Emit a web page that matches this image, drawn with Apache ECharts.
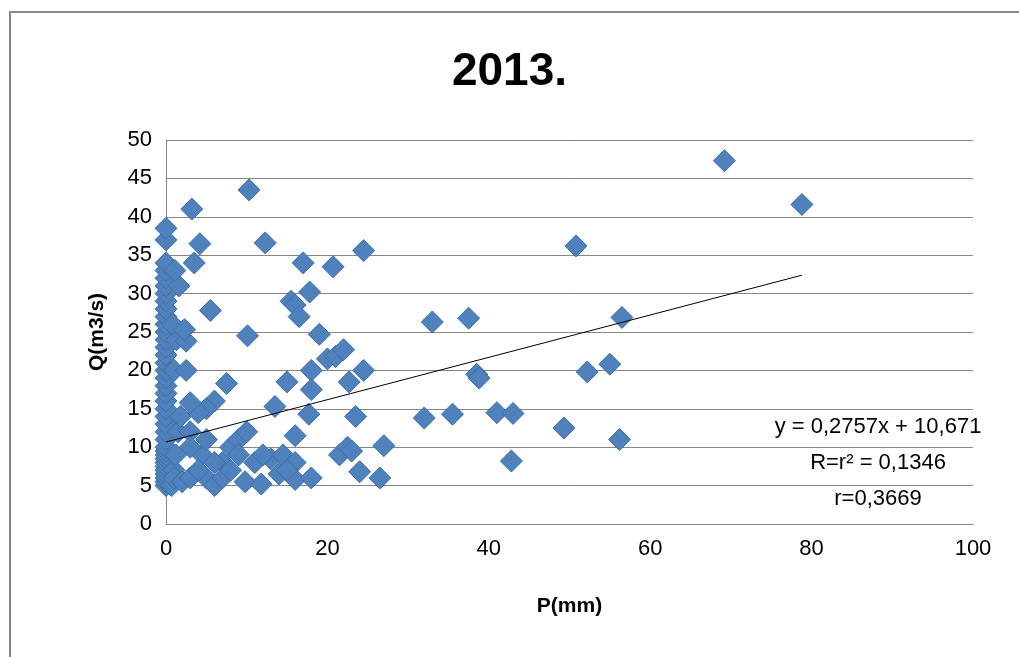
<!DOCTYPE html>
<html><head><meta charset="utf-8">
<script src="https://cdn.jsdelivr.net/npm/echarts@6/dist/echarts.min.js"></script>
<style>html,body{margin:0;padding:0;background:#fff}#c{width:1019px;height:657px}</style>
</head><body><div id="c"></div>
<script>
const titleText = '2013.';
const xName = 'P(mm)';
const yName = 'Q(m3/s)';
const xAtZero = [5,5.5,6,6.5,7,7.5,8,8.5,9,9.5,10,11,12,13,14,15,16,17,18,19,20,21,22,23,24,25,26,27,28,29,30,31,32,33,34,37,38.5];
const pointsP = [0.7,1,1.2,1.5,1.8,1,1.3,0.8,1.6,1.1,
 3.2,3.5,4.2,5.5,10.3,12.3,10.1,7.5,6,5,4,3,2.5,2.5,2.3,3,4.5,5,6,7,8,9,10,9.8,11.8,13,13.5,14.5,15,15.5,16,16.5,17,17.8,18,18,17.7,16,16,16,18,19,20,21,20.7,22,22.7,23.5,21.5,22.5,23,24,24.5,24.5,26.5,27,32,33,35.5,37.5,38.5,38.8,41,42.8,43,49.3,50.8,52.2,55,56.2,56.5,69.2,78.8,
 1,2,3,4,6,7,8,9,11,12,14,15,3,5];
const pointsQ = [5,7,9,12,14,20,24,26,31,33,
 41,34,36.5,27.8,43.5,36.6,24.5,18.3,16,15,14.5,15.8,20,23.8,25.3,12,9,6,5,8,10,11,12,5.5,5.2,8.5,15.3,9,18.5,29,28.5,27,34,30.2,20,17.5,14.3,11.5,8,5.8,6,24.7,21.5,21.8,33.5,22.7,18.5,14,9,10,9.5,6.8,20,35.6,6,10.2,13.8,26.3,14.3,26.8,19.5,19,14.5,8.2,14.4,12.5,36.2,19.8,20.8,11,26.9,47.3,41.6,
 6,5.5,6,7,8,6,7,9,8,9,6.5,7,10,11];
const slope = 0.2757, intercept = 10.671, trendX = [0, 78.8];
const eqLines = ['y = 0,2757x + 10,671', 'R=r\u00b2 = 0,1346', 'r=0,3669'];

const data = xAtZero.map(q=>[0,q]).concat(pointsP.map((p,i)=>[p,pointsQ[i]]));
const font = 'Liberation Sans';
const chart = echarts.init(document.getElementById('c'));
chart.setOption({
  animation:false,
  textStyle:{fontFamily:font},
  title:{text:titleText,left:'center',top:44,textStyle:{fontSize:46,fontWeight:'bold',color:'#000',fontFamily:font}},
  grid:{left:166,right:46,top:140,bottom:133},
  xAxis:{type:'value',min:0,max:100,interval:20,name:xName,nameLocation:'middle',nameGap:72,
    nameTextStyle:{fontSize:21,fontWeight:'bold',color:'#000'},
    axisLine:{lineStyle:{color:'#868686'}},axisTick:{show:false},splitLine:{show:false},
    axisLabel:{fontSize:22,color:'#000',margin:14}},
  yAxis:{type:'value',min:0,max:50,interval:5,name:yName,nameLocation:'middle',nameGap:58,
    nameTextStyle:{fontSize:21,fontWeight:'bold',color:'#000'},
    axisLine:{show:true,lineStyle:{color:'#868686'}},axisTick:{show:false},
    splitLine:{lineStyle:{color:'#868686'}},axisLabel:{fontSize:22,color:'#000',margin:14}},
  series:[
    {type:'scatter',symbol:'diamond',symbolSize:22,data:data,
     itemStyle:{color:'#4F81BD',borderColor:'#3f6fa5',borderWidth:1,opacity:1}},
    {type:'line',data:trendX.map(x=>[x,slope*x+intercept]),symbol:'none',
     lineStyle:{color:'#000',width:1},z:5}
  ],
  graphic:[
    {type:'rect',shape:{x:10,y:12,width:1040,height:700},style:{fill:'none',stroke:'#888',lineWidth:2},silent:true},
    ...eqLines.map((t,i)=>({type:'text',x:878,y:427+i*36,style:{text:t,fontSize:22,fill:'#000',textAlign:'center',textVerticalAlign:'middle',fontFamily:font}}))
  ]
});
</script></body></html>
